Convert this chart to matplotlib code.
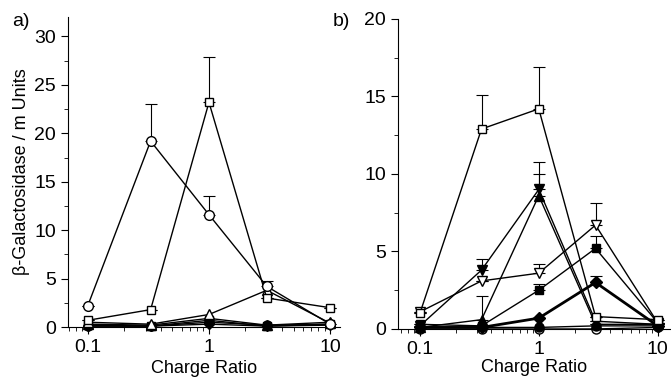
import matplotlib
matplotlib.use("Agg")
import matplotlib.pyplot as plt
from matplotlib.ticker import FixedLocator, NullFormatter, MultipleLocator
import numpy as np

plt.rcParams['font.family'] = ['Liberation Sans', 'DejaVu Sans']

ratio = [0.1, 0.33, 1, 3, 10]

# Panel a
a_open_circle = [2.2, 19.2, 11.6, 4.2, 0.3]
a_open_circle_err = [0, 3.8, 1.9, 0.6, 0]
a_open_square = [0.7, 1.8, 23.2, 3.0, 2.0]
a_open_square_err = [0, 0, 4.7, 0, 0]
a_open_triangle = [0.5, 0.3, 1.3, 3.8, 0.4]
a_filled_triangle = [0.3, 0.2, 0.9, 0.2, 0.5]
a_filled_square = [0.2, 0.1, 0.7, 0.1, 0.3]
a_filled_circle = [0.1, 0.1, 0.5, 0.2, 0.3]
a_filled_diamond = [0.1, 0.1, 0.3, 0.1, 0.2]

# Panel b
b_open_square = [1.0, 12.9, 14.2, 0.8, 0.6]
b_open_square_err = [0, 2.2, 2.7, 0, 0]
b_filled_down = [0.2, 3.8, 9.0, 0.5, 0.3]
b_filled_down_err = [0, 0.7, 1.8, 0, 0]
b_filled_up = [0.1, 0.6, 8.6, 0.3, 0.3]
b_filled_up_err = [0, 1.5, 1.4, 0, 0]
b_open_down = [1.1, 3.1, 3.6, 6.7, 0.4]
b_open_down_err = [0, 0, 0.6, 1.4, 0]
b_filled_square = [0.3, 0.2, 2.5, 5.2, 0.4]
b_filled_square_err = [0, 0, 0.4, 0.8, 0]
b_filled_diamond = [0.1, 0.1, 0.7, 3.0, 0.2]
b_filled_diamond_err = [0, 0, 0, 0.4, 0]
b_filled_circle = [0.1, 0.1, 0.1, 0.2, 0.2]
b_open_circle = [0.0, 0.0, 0.0, 0.0, 0.1]

fig = plt.figure(figsize=(6.71, 3.79), dpi=100)
axa = fig.add_axes([0.101, 0.137, 0.406, 0.818])
axb = fig.add_axes([0.593, 0.132, 0.405, 0.818])


def series(ax, y, marker, filled, err=None, lw=1.0, ms=6.5):
    fc = 'black' if filled else 'white'
    if err is not None:
        ax.errorbar(ratio, y, yerr=[np.zeros(len(err)), err], fmt='none',
                    ecolor='black', elinewidth=0.8, capsize=4, capthick=0.8, zorder=2)
    ax.plot(ratio, y, color='black', lw=lw, marker=marker, ms=ms,
            mfc=fc, mec='black', mew=1.0, zorder=3, clip_on=False)


series(axa, a_filled_diamond, 'D', True, ms=5)
series(axa, a_filled_circle, 'o', True)
series(axa, a_filled_square, 's', True, ms=5.5)
series(axa, a_filled_triangle, '^', True)
series(axa, a_open_triangle, '^', False)
series(axa, a_open_square, 's', False, a_open_square_err, ms=6)
series(axa, a_open_circle, 'o', False, a_open_circle_err, ms=7)

series(axb, b_open_circle, 'o', False)
series(axb, b_filled_circle, 'o', True)
series(axb, b_filled_diamond, 'D', True, b_filled_diamond_err, lw=2.0, ms=6)
series(axb, b_filled_square, 's', True, b_filled_square_err, ms=5.5)
series(axb, b_open_down, 'v', False, b_open_down_err, ms=7)
series(axb, b_filled_up, '^', True, b_filled_up_err, ms=7)
series(axb, b_filled_down, 'v', True, b_filled_down_err, ms=7)
series(axb, b_open_square, 's', False, b_open_square_err, ms=6)

for ax, ylim, major, lp in [(axa, (0, 32), 5, 3), (axb, (0, 20), 5, 1)]:
    ax.set_xscale('log')
    ax.set_ylim(*ylim)
    ax.yaxis.set_major_locator(MultipleLocator(major))
    ax.yaxis.set_minor_locator(MultipleLocator(2.5))
    ax.xaxis.set_major_locator(FixedLocator([0.1, 1, 10]))
    ax.set_xticklabels(['0.1', '1', '10'])
    ax.xaxis.set_minor_formatter(NullFormatter())
    for s in ['top', 'right']:
        ax.spines[s].set_visible(False)
    ax.tick_params(axis='both', which='major', direction='out', length=5,
                   width=0.8, labelsize=14, color='black')
    ax.tick_params(axis='both', which='minor', direction='out', length=3, width=0.6)
    ax.set_xlabel('Charge Ratio', fontsize=13, labelpad=lp)

axa.set_xlim(0.0684, 12.1)
axb.set_xlim(0.0654, 12.6)
axa.set_ylabel('β-Galactosidase / m Units', fontsize=13, labelpad=3)

fig.text(0.018, 0.942, 'a)', fontsize=14, va='center', ha='left')
fig.text(0.496, 0.942, 'b)', fontsize=14, va='center', ha='left')

fig.savefig('out.png', dpi=100)
